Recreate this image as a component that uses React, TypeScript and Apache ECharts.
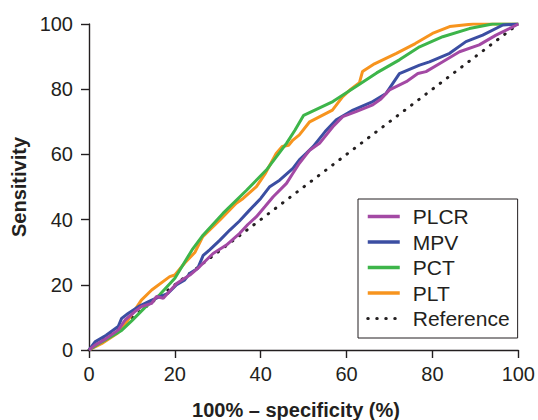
import React, { useEffect, useRef } from "react";
import * as echarts from "echarts";

const FONT = "'Liberation Sans', Arial, Helvetica, sans-serif";
const INK = "#231f20";

const seriesNames = ["PLCR", "MPV", "PCT", "PLT", "Reference"];

const plcr: number[][] = [
  [0, 0], [1.4, 1.5], [4, 3.5], [6.8, 6.1], [8.4, 9.2], [10.7, 11.8], [12.2, 13.3], [13.4, 13.8],
  [14.6, 14.3], [15.7, 16.4], [17.3, 15.9], [18.4, 17.5], [20.4, 20.4], [22, 21.8], [23.5, 23],
  [25.8, 25.6], [28.9, 29.6], [32, 32.2], [35.1, 35.8], [37, 38.5], [39, 40.9], [41, 44],
  [42.9, 47], [46, 51.1], [47.5, 54.2], [49, 57.3], [51.4, 61.3], [53.7, 63.4], [56.8, 68.5],
  [59.1, 71.6], [62.2, 73.1], [66.1, 75.2], [68, 77], [70, 79.8], [73.9, 82.3], [76.6, 84.8],
  [78.5, 85.4], [82.4, 88.4], [86.3, 91.5], [90.9, 93.6], [94.8, 96.6], [97.9, 98.6], [100, 100],
];

const mpv: number[][] = [
  [0, 0], [1.4, 2.5], [4, 4.5], [6.8, 7.2], [7.6, 9.7], [9.1, 11.2], [11.5, 13.3], [14.6, 15.3],
  [18.4, 17.4], [20.4, 20], [22.3, 21.5], [23.5, 23.5], [25.3, 25], [26.6, 29], [28.1, 30.7],
  [30.5, 33.7], [32.8, 36.8], [35, 39.5], [37.4, 42.9], [40, 46.5], [42.1, 50.1], [44.4, 52.1],
  [47.5, 55.7], [49, 58.3], [50.6, 60.3], [52.2, 62.4], [55, 67], [57.6, 70.6], [61.5, 73.6],
  [66.1, 76.2], [69.2, 78.7], [72.3, 84.8], [77, 87.4], [79.3, 88.4], [84, 91], [87.8, 94.6],
  [91.7, 96.6], [96.4, 99.7], [100, 100],
];

const pct: number[][] = [
  [0, 0], [3, 2.5], [7.6, 6], [10, 9], [13, 13], [16.5, 17], [20, 22], [24, 30.7], [26.6, 35.3],
  [31.2, 41.9], [36.7, 49], [41.3, 55.2], [46, 63.4], [48, 67.5], [50, 72], [56.8, 76.2],
  [62.2, 80.8], [67, 85], [72.3, 89], [77, 93], [82.4, 96.1], [88.6, 98.6], [94, 100], [100, 100],
];

const plt: number[][] = [
  [0, 0], [3, 2], [6.7, 5.2], [9.1, 9.2], [12.2, 15.3], [14.6, 18.4], [18.8, 22.5], [20, 23],
  [22.3, 26.7], [24.7, 30], [26.5, 34.8], [30.5, 39.9], [34.3, 45], [35.9, 46.5], [39, 50.1],
  [41, 54], [43.6, 60.3], [45, 62.4], [46.5, 62.8], [47.5, 64.4], [49, 66], [51.4, 70],
  [56.7, 73.6], [59.1, 77.7], [61, 80], [63, 82], [63.7, 85.4], [66.5, 87.8], [71.6, 91],
  [76, 94], [80, 97.1], [84, 99.2], [89.5, 100], [100, 100],
];

const reference: number[][] = [
  [0, 0], [100, 100],
];

const xTicks = [0, 20, 40, 60, 80, 100];

export default function App() {
  const ref = useRef<HTMLDivElement>(null);

  useEffect(() => {
    if (!ref.current) return;
    const chart = echarts.init(ref.current, undefined, { renderer: "svg" });
    const lineSeries = (name: string, data: number[][], color: string) => ({
      name,
      type: "line",
      data,
      symbol: "none",
      smooth: false,
      lineStyle: { color, width: 3 },
      itemStyle: { color },
      z: 3,
    });
    const dotted = { width: 3, type: [0.5, 8.5], cap: "round" };
    chart.setOption({
      animation: false,
      textStyle: { fontFamily: FONT },
      grid: { left: 89, right: 19, top: 24, bottom: 70 },
      xAxis: {
        type: "value",
        min: xTicks[0],
        max: xTicks[xTicks.length - 1],
        interval: 20,
        axisLine: { show: true, onZero: false, lineStyle: { color: INK, width: 1.4 } },
        axisTick: { show: true, length: 8, lineStyle: { color: INK, width: 1.4 } },
        axisLabel: { fontSize: 20, color: INK, margin: 14, fontFamily: FONT },
        splitLine: { show: false },
      },
      yAxis: {
        type: "value",
        min: 0,
        max: 100,
        interval: 20,
        name: "Sensitivity",
        nameLocation: "middle",
        nameGap: 57,
        nameTextStyle: { fontSize: 20, fontWeight: "bold", color: INK, fontFamily: FONT },
        axisLine: { show: true, lineStyle: { color: INK, width: 1.4 } },
        axisTick: { show: true, length: 8, lineStyle: { color: INK, width: 1.4 } },
        axisLabel: { fontSize: 20, color: INK, margin: 16, fontFamily: FONT },
        splitLine: { show: false },
      },
      legend: {
        orient: "vertical",
        left: 358,
        top: 199,
        padding: [7, 8, 9, 8],
        itemWidth: 32,
        itemHeight: 12,
        itemGap: 4.5,
        borderColor: INK,
        borderWidth: 1,
        backgroundColor: "#fff",
        itemStyle: { opacity: 0 },
        textStyle: { fontSize: 21, color: INK, fontFamily: FONT, padding: [0, 0, 0, 8] },
        data: seriesNames.map((name) =>
          name === "Reference"
            ? { name, lineStyle: dotted }
            : { name, lineStyle: { width: 3.5 } }
        ),
      },
      graphic: [
        {
          type: "text",
          x: 296,
          y: 410,
          style: {
            text: "100% \u2013 specificity (%)",
            font: `bold 20px ${FONT}`,
            fill: INK,
            textAlign: "center",
            textVerticalAlign: "middle",
          },
        },
      ],
      series: [
        {
          name: "Reference",
          type: "line",
          data: reference,
          symbol: "none",
          lineStyle: { color: INK, ...dotted },
          itemStyle: { color: INK },
          z: 2,
        },
        lineSeries("PLT", plt, "#f7941e"),
        lineSeries("PCT", pct, "#3db54a"),
        lineSeries("MPV", mpv, "#3b4ea2"),
        lineSeries("PLCR", plcr, "#a349a4"),
      ],
    });
    return () => chart.dispose();
  }, []);

  return (
    <div
      ref={ref}
      style={{ position: "fixed", left: 0, top: 0, width: 538, height: 420, background: "#fff" }}
    />
  );
}
